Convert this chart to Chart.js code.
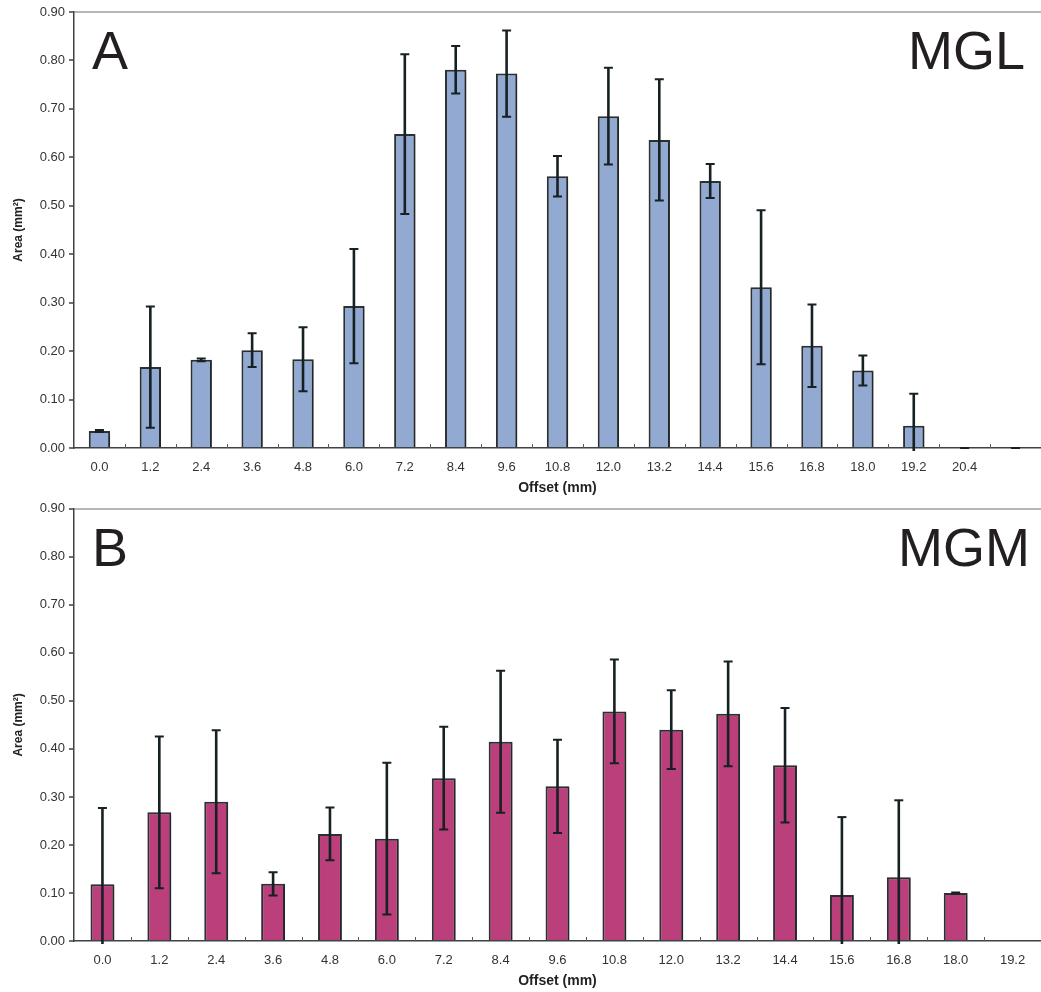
<!DOCTYPE html>
<html>
<head>
<meta charset="utf-8">
<script src="https://cdn.jsdelivr.net/npm/chart.js@4.4.1/dist/chart.umd.min.js"></script>
<style>
  body { margin: 0; background: #fff; }
  .wrap { position: absolute; left: 0; }
  #wrapA { top: 0; }
  #wrapB { top: 497px; }
</style>
</head>
<body>
<div class="wrap" id="wrapA"><canvas id="chartA" width="1041" height="497"></canvas></div>
<div class="wrap" id="wrapB"><canvas id="chartB" width="1041" height="495"></canvas></div>
<script>
// panel A (MGL)
const offsetsA = ['0.0', '1.2', '2.4', '3.6', '4.8', '6.0', '7.2', '8.4', '9.6', '10.8',
                  '12.0', '13.2', '14.4', '15.6', '16.8', '18.0', '19.2', '20.4', ''];
const areaA = [0.035, 0.167, 0.182, 0.202, 0.183, 0.293, 0.648, 0.781, 0.773, 0.561,
               0.685, 0.636, 0.551, 0.332, 0.211, 0.160, 0.046, 0, 0];
const errA = [0.002, 0.125, 0.003, 0.035, 0.066, 0.118, 0.165, 0.049, 0.089, 0.042,
              0.100, 0.125, 0.035, 0.159, 0.085, 0.031, 0.066, 0, 0];

// panel B (MGM)
const offsetsB = ['0.0', '1.2', '2.4', '3.6', '4.8', '6.0', '7.2', '8.4', '9.6', '10.8',
                  '12.0', '13.2', '14.4', '15.6', '16.8', '18.0', '19.2'];
const areaB = [0.118, 0.268, 0.290, 0.119, 0.223, 0.213, 0.339, 0.415, 0.322, 0.478,
               0.440, 0.473, 0.366, 0.096, 0.133, 0.100, null];
const errB = [0.159, 0.158, 0.149, 0.024, 0.055, 0.158, 0.107, 0.148, 0.097, 0.108,
              0.082, 0.109, 0.119, 0.162, 0.160, 0.001, null];

const FONT = 'Liberation Sans, Arial, Helvetica, sans-serif';
const AXIS = '#3b4346';

// light drop shadow under the bars, like the original
const barShadow = {
    id: 'barShadow',
    beforeDatasetsDraw(chart) {
        const ctx = chart.ctx;
        ctx.save();
        ctx.shadowColor = 'rgba(0,0,0,0.25)';
        ctx.shadowBlur = 2;
        ctx.shadowOffsetX = 1.5;
        ctx.shadowOffsetY = 1;
    },
    afterDatasetsDraw(chart) {
        chart.ctx.restore();
    }
};

const errorBars = {
    id: 'errorBars',
    afterDatasetsDraw(chart, args, opts) {
        const ctx = chart.ctx;
        const meta = chart.getDatasetMeta(0);
        const y = chart.scales.y;
        const vals = chart.data.datasets[0].data;
        const errs = opts.errors;
        const bottom = chart.chartArea.bottom;
        ctx.save();
        ctx.strokeStyle = '#172022';
        vals.forEach((v, i) => {
            const e = errs[i];
            if (v === null || e === null) return;
            const x = meta.data[i].x;
            const yHi = y.getPixelForValue(v + e);
            const clipped = v - e < 0;
            const yLo = clipped ? bottom + 3 : y.getPixelForValue(v - e);
            ctx.lineWidth = 2.6;
            ctx.beginPath();
            ctx.moveTo(x, yLo);
            ctx.lineTo(x, yHi);
            ctx.stroke();
            ctx.lineWidth = 2;
            ctx.beginPath();
            ctx.moveTo(x - 4.5, yHi);
            ctx.lineTo(x + 4.5, yHi);
            if (!clipped) {
                ctx.moveTo(x - 4.5, yLo);
                ctx.lineTo(x + 4.5, yLo);
            }
            ctx.stroke();
        });
        ctx.restore();
    }
};

// small ticks between categories, pointing up into the plot
const innerTicks = {
    id: 'innerTicks',
    afterDraw(chart) {
        const ctx = chart.ctx;
        const x = chart.scales.x;
        const n = chart.data.labels.length;
        const bottom = chart.chartArea.bottom;
        ctx.save();
        ctx.strokeStyle = '#555c5f';
        ctx.lineWidth = 1;
        ctx.beginPath();
        for (let i = 0; i < n - 1; i++) {
            const px = Math.round((x.getPixelForValue(i) + x.getPixelForValue(i + 1)) / 2) + 0.5;
            ctx.moveTo(px, bottom);
            ctx.lineTo(px, bottom - 4);
        }
        ctx.stroke();
        ctx.restore();
    }
};

const panelLabels = {
    id: 'panelLabels',
    afterDraw(chart, args, opts) {
        const ctx = chart.ctx;
        const a = chart.chartArea;
        ctx.save();
        ctx.fillStyle = '#231f20';
        ctx.font = '54px ' + FONT;
        ctx.textBaseline = 'alphabetic';
        ctx.textAlign = 'left';
        ctx.fillText(opts.letter, a.left + 18, a.top + 57);
        ctx.textAlign = 'right';
        ctx.fillText(opts.name, a.right - opts.rightGap, a.top + 57);
        ctx.restore();
    }
};

function makeChart(id, labels, values, errors, color, letter, name, rightGap, padTop, padBottom) {
    return new Chart(document.getElementById(id), {
        type: 'bar',
        data: {
            labels: labels,
            datasets: [{
                data: values,
                backgroundColor: color,
                borderColor: '#2b3033',
                borderWidth: 2,
                borderSkipped: 'bottom',
                categoryPercentage: 1,
                barPercentage: 0.42
            }]
        },
        options: {
            responsive: false,
            animation: false,
            layout: { padding: { top: padTop, bottom: padBottom, left: 0, right: 0 } },
            plugins: {
                legend: { display: false },
                tooltip: { enabled: false },
                errorBars: { errors: errors },
                panelLabels: { letter: letter, name: name, rightGap: rightGap }
            },
            scales: {
                x: {
                    offset: true,
                    grid: { display: false, drawTicks: false },
                    border: { color: AXIS, width: 1.5 },
                    ticks: {
                        padding: 12, color: '#333', autoSkip: false, maxRotation: 0,
                        font: { family: FONT, size: 13 }
                    },
                    title: {
                        display: true, text: 'Offset (mm)', color: '#222',
                        font: { family: FONT, size: 14, weight: 'bold' },
                        padding: { top: 0, bottom: 0 }
                    },
                    afterFit: s => { s.height = 49; }
                },
                y: {
                    min: 0,
                    max: 0.9,
                    ticks: {
                        stepSize: 0.1, padding: 4, color: '#333',
                        font: { family: FONT, size: 13 },
                        callback: v => v.toFixed(2)
                    },
                    grid: {
                        color: c => Math.abs(c.tick.value - 0.9) < 1e-6 ? '#b3b7b8' : 'rgba(0,0,0,0)',
                        lineWidth: 2,
                        tickLength: 5,
                        tickColor: AXIS,
                        tickWidth: 1.5
                    },
                    border: { color: AXIS, width: 1.5 },
                    title: {
                        display: true, text: 'Area (mm²)', color: '#222',
                        font: { family: FONT, size: 12, weight: 'bold' },
                        padding: { top: 11, bottom: 0 }
                    },
                    afterFit: s => { s.width = 74; }
                }
            }
        },
        plugins: [barShadow, errorBars, innerTicks, panelLabels]
    });
}

document.addEventListener('DOMContentLoaded', () => {
    makeChart('chartA', offsetsA, areaA, errA, '#92a9d1', 'A', 'MGL', 16, 12, 0);
    makeChart('chartB', offsetsB, areaB, errB, '#bb3f7b', 'B', 'MGM', 11, 8, 2);
});
</script>
</body>
</html>
